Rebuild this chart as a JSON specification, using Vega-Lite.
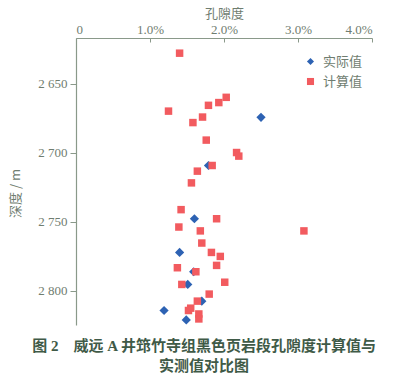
{
  "$schema": "https://vega.github.io/schema/vega-lite/v6.json",
  "width": 296,
  "height": 287,
  "autosize": {"type": "none"},
  "padding": {"left": 76, "top": 38, "right": 28, "bottom": 55},
  "background": "white",
  "config": {
    "view": {"stroke": null},
    "font": "Times New Roman, Tinos, DejaVu Serif, serif",
    "axis": {"grid": false, "domainColor": "#8a998a", "tickColor": "#8a998a", "labelColor": "#6f7d70", "titleColor": "#6f7d70", "labelFont": "Times New Roman, Tinos, DejaVu Serif, serif", "titleFont": "Noto Sans CJK SC", "labelFontSize": 13, "titleFontSize": 13, "titleFontWeight": "normal", "domainWidth": 1.2}
  },
  "title": {
    "text": ["图 2　威远 A 井筇竹寺组黑色页岩段孔隙度计算值与", "实测值对比图"],
    "orient": "bottom",
    "anchor": "middle",
    "dx": -20,
    "offset": 14,
    "fontSize": 15,
    "fontWeight": "bold",
    "font": "Times New Roman, Noto Sans CJK SC",
    "color": "#3f5a47",
    "lineHeight": 20
  },
  "data": {
    "values": [
      {"type": "实际值", "p": 2.50, "d": 2674.5},
      {"type": "实际值", "p": 1.79, "d": 2709.4},
      {"type": "实际值", "p": 1.60, "d": 2748},
      {"type": "实际值", "p": 1.40, "d": 2772.4},
      {"type": "实际值", "p": 1.59, "d": 2786.4},
      {"type": "实际值", "p": 1.51, "d": 2795.6},
      {"type": "实际值", "p": 1.70, "d": 2807.7},
      {"type": "实际值", "p": 1.19, "d": 2814.5},
      {"type": "实际值", "p": 1.49, "d": 2821.3},
      {"type": "计算值", "p": 1.40, "d": 2628},
      {"type": "计算值", "p": 2.03, "d": 2660},
      {"type": "计算值", "p": 1.93, "d": 2663.8},
      {"type": "计算值", "p": 1.79, "d": 2665.8},
      {"type": "计算值", "p": 1.25, "d": 2670},
      {"type": "计算值", "p": 1.71, "d": 2674.3},
      {"type": "计算值", "p": 1.58, "d": 2678.3},
      {"type": "计算值", "p": 1.76, "d": 2691},
      {"type": "计算值", "p": 2.17, "d": 2700},
      {"type": "计算值", "p": 2.20, "d": 2702.6},
      {"type": "计算值", "p": 1.84, "d": 2709.4},
      {"type": "计算值", "p": 1.64, "d": 2713.5},
      {"type": "计算值", "p": 1.56, "d": 2722},
      {"type": "计算值", "p": 1.42, "d": 2741.4},
      {"type": "计算值", "p": 1.90, "d": 2748},
      {"type": "计算值", "p": 1.39, "d": 2754},
      {"type": "计算值", "p": 1.68, "d": 2756.8},
      {"type": "计算值", "p": 3.08, "d": 2756.8},
      {"type": "计算值", "p": 1.70, "d": 2765.6},
      {"type": "计算值", "p": 1.83, "d": 2772.4},
      {"type": "计算值", "p": 1.95, "d": 2775.3},
      {"type": "计算值", "p": 1.90, "d": 2781.8},
      {"type": "计算值", "p": 1.37, "d": 2783.5},
      {"type": "计算值", "p": 1.62, "d": 2786.4},
      {"type": "计算值", "p": 2.01, "d": 2794},
      {"type": "计算值", "p": 1.43, "d": 2795.6},
      {"type": "计算值", "p": 1.80, "d": 2802.6},
      {"type": "计算值", "p": 1.64, "d": 2807.7},
      {"type": "计算值", "p": 1.55, "d": 2812.8},
      {"type": "计算值", "p": 1.52, "d": 2814.5},
      {"type": "计算值", "p": 1.66, "d": 2817},
      {"type": "计算值", "p": 1.66, "d": 2820.6}
    ]
  },
  "mark": {"type": "point", "filled": true, "opacity": 1},
  "encoding": {
    "x": {
      "field": "p", "type": "quantitative",
      "scale": {"domain": [0, 4], "nice": false, "zero": false},
      "axis": {"orient": "top", "title": "孔隙度", "values": [0, 1, 2, 3, 4], "tickSize": -4, "labelPadding": 6, "titlePadding": 3,
        "labelExpr": "datum.value == 0 ? '0' : format(datum.value, '.1f') + '%'"}
    },
    "y": {
      "field": "d", "type": "quantitative",
      "scale": {"domain": [2617, 2825], "reverse": true, "nice": false, "zero": false},
      "axis": {"title": "深度 / m", "values": [2650, 2700, 2750, 2800], "tickSize": 6, "labelPadding": 3,
        "labelExpr": "replace(format(datum.value, ','), ',', ' ')",
        "titleX": -61, "titleY": 155, "titleBaseline": "middle", "titleAngle": -90}
    },
    "color": {
      "field": "type", "type": "nominal",
      "scale": {"domain": ["实际值", "计算值"], "range": ["#2d62b3", "#f25b5f"]},
      "legend": {"title": null, "orient": "none", "legendX": 228, "legendY": 17, "labelFontSize": 13, "labelColor": "#6f7d70", "labelFont": "Noto Sans CJK SC", "symbolSize": 50, "rowPadding": 6, "labelOffset": 6}
    },
    "shape": {
      "field": "type", "type": "nominal",
      "scale": {"domain": ["实际值", "计算值"], "range": ["diamond", "square"]}
    },
    "size": {"condition": {"test": "datum.type == '实际值'", "value": 85}, "value": 56}
  }
}
